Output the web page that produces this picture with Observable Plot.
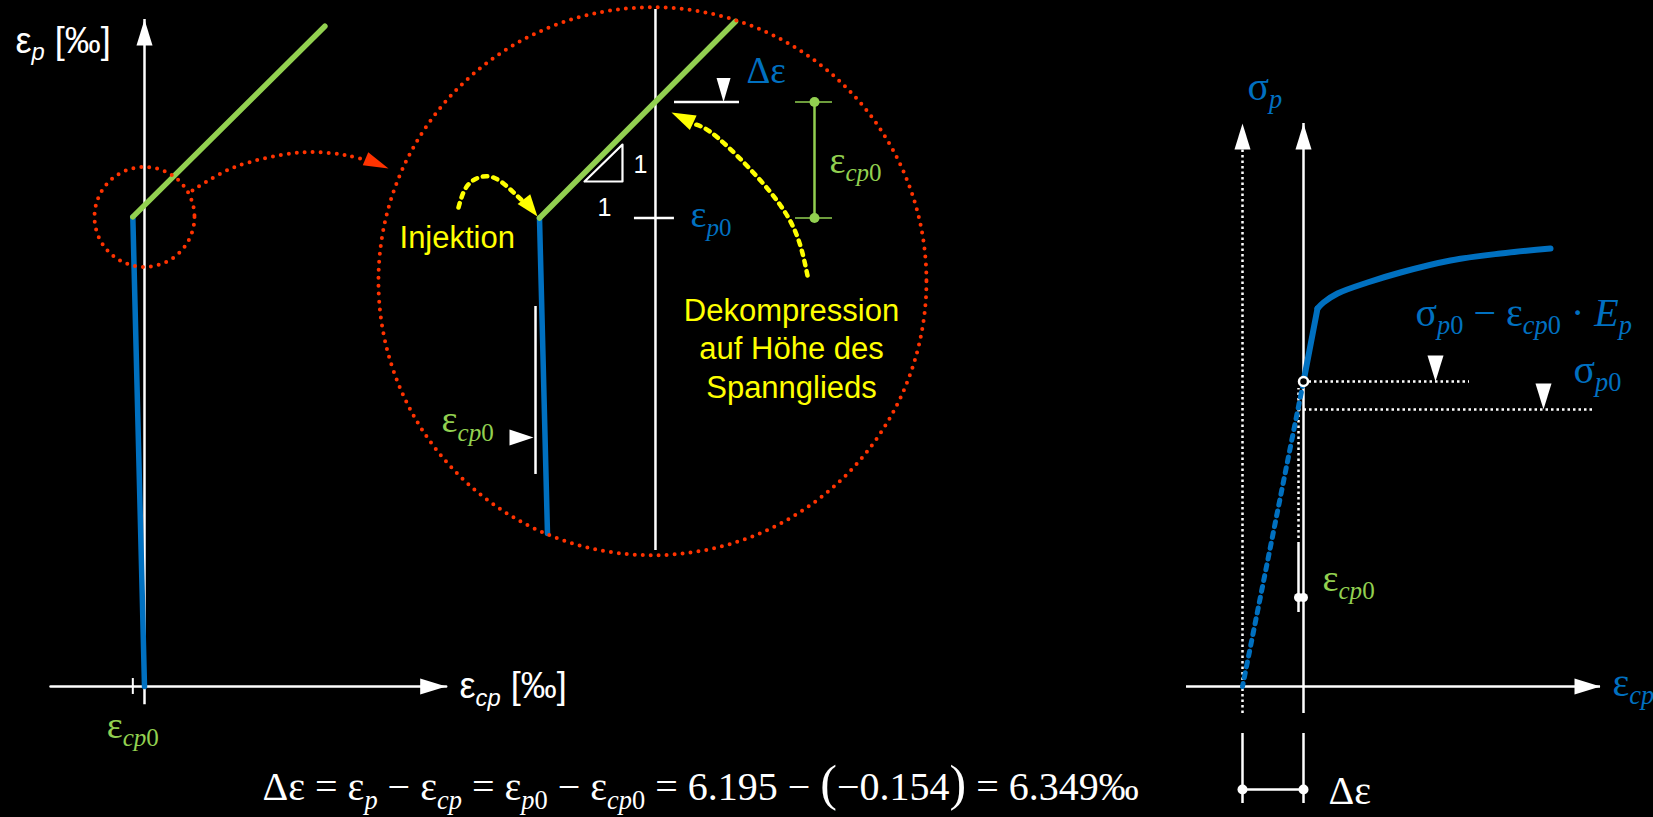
<!DOCTYPE html>
<html>
<head>
<meta charset="utf-8">
<script src="https://cdn.jsdelivr.net/npm/d3@7"></script>
<script src="https://cdn.jsdelivr.net/npm/@observablehq/plot@0.6"></script>
<style>
  html, body { margin: 0; padding: 0; background: #000; }
  #chart { position: relative; width: 1653px; height: 817px; background: #000; overflow: hidden; }
  #chart svg { position: absolute; left: 0; top: 0; }
</style>
</head>
<body>
<div id="chart"></div>
<script>
// ================= DATA =================
const epsCp0 = -0.154;                 // concrete strain at tendon level [‰]
const epsP0 = 6.195;                   // prestrain of tendon [‰]
const deltaEps = +(epsP0 - epsCp0).toFixed(3); // 6.349 ‰

// ---- left panel: ε_p over ε_cp [‰] ----
const leftXAxis = [{x: -1.24, y: 0}, {x: 3.98, y: 0}];
const leftYAxis = [{x: 0, y1: -0.24, y2: 8.80}];
const leftAxisHeads = [{x: 3.98, y: 0, rotate: 90}, {x: 0, y: 8.80, rotate: 0}];
const leftTicks = [{x: epsCp0, y1: -0.105, y2: 0.105}];
const leftBlue = [{x: epsCp0, y: epsP0}, {x: 0, y: 0}];
const leftGreen = [{x: epsCp0, y: epsP0}, {x: 2.38, y: 8.71}];
const leftFocus = [{x: 0, y: epsP0}];
const leftConnector = [{x: 0.633, y: 6.544}, {x: 1.174, y: 6.847}, {x: 2.058, y: 7.045}, {x: 2.678, y: 7.005}, {x: 3.10, y: 6.88}];
const leftConnectorHead = [{x: 3.219, y: 6.834, rotate: 113}];
const leftSansLabels = [
  {x: -1.702, y: 8.364, text: "ε_{p} [‰]"},
  {x: 4.156, y: -0.158, text: "ε_{cp} [‰]"}
];
const leftGreenLabels = [{x: epsCp0, y: -0.673, text: "ε_{cp0}"}];
const fmt = v => (v < 0 ? "−" : "") + Math.abs(v).toFixed(3);
const formulaLines = [{x: 1.557, y: -1.50,
  text: `Δε = ε_{p} − ε_{cp} = ε_{p0} − ε_{cp0} = ${fmt(epsP0)} − (${fmt(epsCp0)}) = ${fmt(deltaEps)}‰`}];

// ---- zoom panel (magnified neighbourhood of the kink) [‰] ----
const zoomCircle = [{x: -0.004, y: 6.111}];
const zoomAxis = [{x: 0, y1: 5.7534, y2: 6.4719}];
const zoomGreen = [{x: epsCp0, y: epsP0}, {x: 0.1063, y: 6.4560}];
const zoomBlue = [{x: epsCp0, y: epsP0}, {x: -0.1434, y: 5.7760}];
const zoomLevels = [{y: epsP0, x1: -0.0279, x2: 0.0252}, {y: deltaEps, x1: 0.0253, x2: 0.1116}];
const zoomLevelHeads = [{x: 0.0904, y: deltaEps, rotate: 180}];
const zoomBracket = [{x: 0.2112, y1: epsP0, y2: deltaEps}];
const zoomBracketEnds = [{x: 0.2112, y: epsP0, x1: 0.1860, x2: 0.2351}, {x: 0.2112, y: deltaEps, x1: 0.1860, x2: 0.2351}];
const zoomSlope = [{x: -0.0942, y: 6.2435}, {x: -0.0438, y: 6.2435}, {x: -0.0438, y: 6.2926}, {x: -0.0942, y: 6.2435}];
const zoomSlopeLabels = [{x: -0.0292, y: 6.2541, text: "1"}, {x: -0.0770, y: 6.1983, text: "1"}];
const zoomShiftBar = [{x: -0.1593, y1: 5.8544, y2: 6.0775}];
const zoomShiftHead = [{x: -0.1620, y: 5.9035, rotate: 90}];
const zoomGreenLabels = [{x: 0.2311, y: 6.2554, text: "ε_{cp0}"}, {x: -0.2841, y: 5.9102, text: "ε_{cp0}"}];
const zoomBlueLabels = [{x: 0.0465, y: 6.1824, text: "ε_{p0}"}];
const zoomDeltaLabel = [{x: 0.1210, y: 6.3749, text: "Δε"}];
const zoomInjektionPath = [{x: -0.2616, y: 6.2089}, {x: -0.2480, y: 6.2400}, {x: -0.2200, y: 6.2500}, {x: -0.1950, y: 6.2350}, {x: -0.1780, y: 6.2190}];
const zoomInjektionHead = [{x: -0.1567, y: 6.1970, rotate: 142}];
const zoomDecompPath = [{x: 0.2019, y: 6.1186}, {x: 0.1833, y: 6.1824}, {x: 0.1395, y: 6.2448}, {x: 0.0824, y: 6.3019}, {x: 0.0540, y: 6.3190}];
const zoomDecompHead = [{x: 0.0213, y: 6.3351, rotate: 295}];
const zoomInjektionLabel = [{x: -0.3399, y: 6.1558, text: "Injektion"}];
const zoomDecompLabel = [{x: 0.1807, y: 5.9566, text: "Dekompression\nauf Höhe des\nSpannglieds"}];

// ---- right panel: σ_p over ε_cp (schematic units) ----
const rightYAxis = [{x: 0, y1: -2.7, y2: 56.3}];
const rightShiftedAxis = [{x: -6.1, y1: -2.7, y2: 54.0}];
const rightXAxis = [{y: 0, x1: -11.7, x2: 29.7}];
const rightAxisHeads = [{x: 0, y: 56.3, rotate: 0}, {x: -6.1, y: 56.3, rotate: 0}, {x: 29.7, y: 0, rotate: 90}];
const rightElastic = [{x: 0, y: 30.5}, {x: 1.4, y: 37.8}];
const rightPlastic = [{x: 1.4, y: 37.8}, {x: 2.0, y: 38.4}, {x: 3.4, y: 39.3}, {x: 6.4, y: 40.4}, {x: 9.7, y: 41.4}, {x: 14.7, y: 42.6}, {x: 19.7, y: 43.3}, {x: 24.7, y: 43.8}];
const rightElasticExt = [{x: 0, y: 30.5}, {x: -6.1, y: 0}];
const rightPoint = [{x: 0, y: 30.5}];
const rightLevels = [{y: 30.5, x1: 0, x2: 16.6}, {y: 27.7, x1: -0.5, x2: 29.0}];
const rightLevelHeads = [{x: 13.2, y: 30.5, rotate: 180}, {x: 24.0, y: 27.7, rotate: 180}];
const rightEpsDotted = [{x: -0.5, y1: 14.8, y2: 29.8}];
const rightEpsSolid = [{x: -0.5, y1: 7.4, y2: 14.4}];
const rightEpsDots = [{x: -0.5, y: 8.9}, {x: 0, y: 8.9}];
const rightDeltaBars = [{x: -6.1, y1: -11.7, y2: -4.7}, {x: 0, y1: -11.7, y2: -4.7}];
const rightDeltaLine = [{y: -10.3, x1: -6.1, x2: 0}];
const rightDeltaDots = [{x: -6.1, y: -10.3}, {x: 0, y: -10.3}];
const rightBlueLabels = [
  {x: -5.6, y: 58.7, text: "σ_{p}"},
  {x: 11.2, y: 36.1, text: "σ_{p0} − ε_{cp0} · *E*_{p}"},
  {x: 27.0, y: 30.4, text: "σ_{p0}"},
  {x: 30.9, y: -0.9, text: "ε_{cp}"}
];
const rightGreenLabels = [{x: 1.9, y: 9.6, text: "ε_{cp0}"}];
const rightWhiteLabels = [{x: 2.5, y: -11.7, text: "Δε"}];

// ================= STYLE =================
const W = 1653, H = 817;
const BLUE = "#0070c0", GREEN = "#92d050", YELLOW = "#ffff00", RED = "#ff3300", WHITE = "#ffffff";
const SERIF = "'Liberation Serif', 'Times New Roman', 'DejaVu Serif', serif";
const SANS = "'Liberation Sans', Arial, Helvetica, sans-serif";

const headShape = {
  draw(context, l, r) {
    context.moveTo(0, -l);
    context.lineTo(r, 0);
    context.lineTo(-r, 0);
    context.closePath();
  }
};
const heads = (data, fill, length = 26, r = 8) =>
  Plot.vector(data, {x: "x", y: "y", rotate: "rotate", length, r, shape: headShape, anchor: "end", fill, stroke: "none"});
const dottedRed = {stroke: RED, strokeWidth: 4, strokeDasharray: "0 8", strokeLinecap: "round"};
const dottedYellow = {stroke: YELLOW, strokeWidth: 4.5, strokeDasharray: "4.5 6"};
const dottedWhite = {stroke: WHITE, strokeWidth: 2.5, strokeDasharray: "2.5 3"};
const label = (data, o) => Plot.text(data, {x: "x", y: "y", text: "text", lineAnchor: "bottom", textAnchor: "start", ...o});

function panel(xDomain, yDomain, marks) {
  return Plot.plot({
    width: W, height: H, margin: 0,
    x: {domain: xDomain, axis: null},
    y: {domain: yDomain, axis: null},
    style: {background: "transparent", overflow: "visible"},
    marks
  });
}

// left panel scale: 75.8 px per ‰, origin of axes at pixel (144, 686)
const kL = 75.8;
const left = panel([-144 / kL, (W - 144) / kL], [-(H - 686) / kL, 686 / kL], [
  Plot.line(leftXAxis, {x: "x", y: "y", stroke: WHITE, strokeWidth: 2.5}),
  Plot.ruleX(leftYAxis, {x: "x", y1: "y1", y2: "y2", stroke: WHITE, strokeWidth: 2.5}),
  Plot.ruleX(leftTicks, {x: "x", y1: "y1", y2: "y2", stroke: WHITE, strokeWidth: 2}),
  heads(leftAxisHeads, WHITE, 26, 8),
  Plot.line(leftBlue, {x: "x", y: "y", stroke: BLUE, strokeWidth: 5.5}),
  Plot.line(leftGreen, {x: "x", y: "y", stroke: GREEN, strokeWidth: 5.5}),
  Plot.dot(leftFocus, {x: "x", y: "y", r: 50, fill: "none", ...dottedRed}),
  Plot.line(leftConnector, {x: "x", y: "y", curve: "catmull-rom", ...dottedRed}),
  heads(leftConnectorHead, RED, 25, 7),
  label(leftSansLabels, {fill: WHITE, fontFamily: SANS, fontSize: 36}),
  label(leftGreenLabels, {fill: GREEN, fontFamily: SERIF, fontSize: 38, textAnchor: "middle"}),
  label(formulaLines, {fill: WHITE, fontFamily: SERIF, fontSize: 40})
]);

// zoom panel scale: 753 px per ‰, kink (ε_cp0, ε_p0) at pixel (539, 217.5)
const kZ = 753;
const zoom = panel([epsCp0 - 539 / kZ, epsCp0 + (W - 539) / kZ], [epsP0 - (H - 217.5) / kZ, epsP0 + 217.5 / kZ], [
  Plot.ruleX(zoomAxis, {x: "x", y1: "y1", y2: "y2", stroke: WHITE, strokeWidth: 2.5}),
  Plot.ruleY(zoomLevels, {y: "y", x1: "x1", x2: "x2", stroke: WHITE, strokeWidth: 2.5}),
  heads(zoomLevelHeads, WHITE, 24, 7),
  Plot.line(zoomSlope, {x: "x", y: "y", stroke: WHITE, strokeWidth: 2.2}),
  Plot.ruleX(zoomShiftBar, {x: "x", y1: "y1", y2: "y2", stroke: WHITE, strokeWidth: 2.5}),
  heads(zoomShiftHead, WHITE, 24, 8),
  Plot.line(zoomBlue, {x: "x", y: "y", stroke: BLUE, strokeWidth: 5.5}),
  Plot.line(zoomGreen, {x: "x", y: "y", stroke: GREEN, strokeWidth: 5.5}),
  Plot.ruleX(zoomBracket, {x: "x", y1: "y1", y2: "y2", stroke: GREEN, strokeWidth: 2.5}),
  Plot.ruleY(zoomBracketEnds, {y: "y", x1: "x1", x2: "x2", stroke: GREEN, strokeWidth: 1.5}),
  Plot.dot(zoomBracketEnds, {x: "x", y: "y", r: 5, fill: GREEN, stroke: "none"}),
  Plot.line(zoomInjektionPath, {x: "x", y: "y", curve: "natural", ...dottedYellow}),
  heads(zoomInjektionHead, YELLOW, 22, 8),
  Plot.line(zoomDecompPath, {x: "x", y: "y", curve: "natural", ...dottedYellow}),
  heads(zoomDecompHead, YELLOW, 24, 8),
  Plot.dot(zoomCircle, {x: "x", y: "y", r: 274, fill: "none", ...dottedRed}),
  label(zoomSlopeLabels, {fill: WHITE, fontFamily: SANS, fontSize: 25}),
  label(zoomGreenLabels, {fill: GREEN, fontFamily: SERIF, fontSize: 38}),
  label(zoomBlueLabels, {fill: BLUE, fontFamily: SERIF, fontSize: 38}),
  label(zoomDeltaLabel, {fill: BLUE, fontFamily: SERIF, fontSize: 37}),
  label(zoomInjektionLabel, {fill: YELLOW, fontFamily: SANS, fontSize: 31}),
  label(zoomDecompLabel, {fill: YELLOW, fontFamily: SANS, fontSize: 31, textAnchor: "middle", lineHeight: 1.24})
]);

// right panel: schematic units, 10 px per unit, origin at pixel (1303, 686)
const kR = 10;
const right = panel([-1303 / kR, (W - 1303) / kR], [-(H - 686) / kR, 686 / kR], [
  Plot.ruleX(rightYAxis, {x: "x", y1: "y1", y2: "y2", stroke: WHITE, strokeWidth: 2.5}),
  Plot.ruleX(rightShiftedAxis, {x: "x", y1: "y1", y2: "y2", ...dottedWhite}),
  Plot.ruleY(rightXAxis, {y: "y", x1: "x1", x2: "x2", stroke: WHITE, strokeWidth: 2.5}),
  heads(rightAxisHeads, WHITE, 26, 8),
  Plot.ruleY(rightLevels, {y: "y", x1: "x1", x2: "x2", ...dottedWhite}),
  heads(rightLevelHeads, WHITE, 26, 8),
  Plot.ruleX(rightEpsDotted, {x: "x", y1: "y1", y2: "y2", ...dottedWhite}),
  Plot.ruleX(rightEpsSolid, {x: "x", y1: "y1", y2: "y2", stroke: WHITE, strokeWidth: 2.5}),
  Plot.dot(rightEpsDots, {x: "x", y: "y", r: 4.5, fill: WHITE, stroke: "none"}),
  Plot.ruleX(rightDeltaBars, {x: "x", y1: "y1", y2: "y2", stroke: WHITE, strokeWidth: 2.5}),
  Plot.ruleY(rightDeltaLine, {y: "y", x1: "x1", x2: "x2", stroke: WHITE, strokeWidth: 2.5}),
  Plot.dot(rightDeltaDots, {x: "x", y: "y", r: 5, fill: WHITE, stroke: "none"}),
  Plot.line(rightElasticExt, {x: "x", y: "y", stroke: BLUE, strokeWidth: 5, strokeDasharray: "5 6"}),
  Plot.line(rightElastic, {x: "x", y: "y", stroke: BLUE, strokeWidth: 6}),
  Plot.line(rightPlastic, {x: "x", y: "y", stroke: BLUE, strokeWidth: 6, curve: "catmull-rom"}),
  Plot.dot(rightPoint, {x: "x", y: "y", r: 4.5, fill: "#000", stroke: WHITE, strokeWidth: 2.5}),
  label(rightBlueLabels, {fill: BLUE, fontFamily: SERIF, fontSize: 40}),
  label(rightGreenLabels, {fill: GREEN, fontFamily: SERIF, fontSize: 38}),
  label(rightWhiteLabels, {fill: WHITE, fontFamily: SERIF, fontSize: 40})
]);

const chart = document.getElementById("chart");
for (const svg of [left, zoom, right]) chart.appendChild(svg);

// rich text: "_{...}" → subscript (letters italic, digits upright), "*x*" → italic, big parentheses
const SVGNS = "http://www.w3.org/2000/svg";
function richText(root) {
  for (const t of root.querySelectorAll("text")) {
    if (t.querySelector("tspan")) continue;
    const s = t.textContent;
    if (!/[_*()]/.test(s)) continue;
    const fs = parseFloat(getComputedStyle(t).fontSize) || 36;
    const subSize = 0.66, shift = 0.22 * fs;
    t.textContent = "";
    let cur = 0;
    const add = (str, size, italic, off) => {
      const ts = document.createElementNS(SVGNS, "tspan");
      ts.textContent = str;
      if (size !== 1) ts.setAttribute("font-size", (size * fs).toFixed(2));
      if (italic) ts.setAttribute("font-style", "italic");
      const d = off - cur;
      if (d) ts.setAttribute("dy", d.toFixed(2));
      cur = off;
      t.appendChild(ts);
    };
    const re = /_\{([^}]*)\}|\*([^*]+)\*|([()])|([^_*()]+)/g;
    let m;
    while ((m = re.exec(s))) {
      if (m[1] != null) for (const p of m[1].match(/\d+|\D+/g)) add(p, subSize, !/\d/.test(p), shift);
      else if (m[2] != null) add(m[2], 1, true, 0);
      else if (m[3] != null) add(m[3], 1.25, false, 0);
      else add(m[4], 1, false, 0);
    }
  }
}
richText(chart);
</script>
</body>
</html>
